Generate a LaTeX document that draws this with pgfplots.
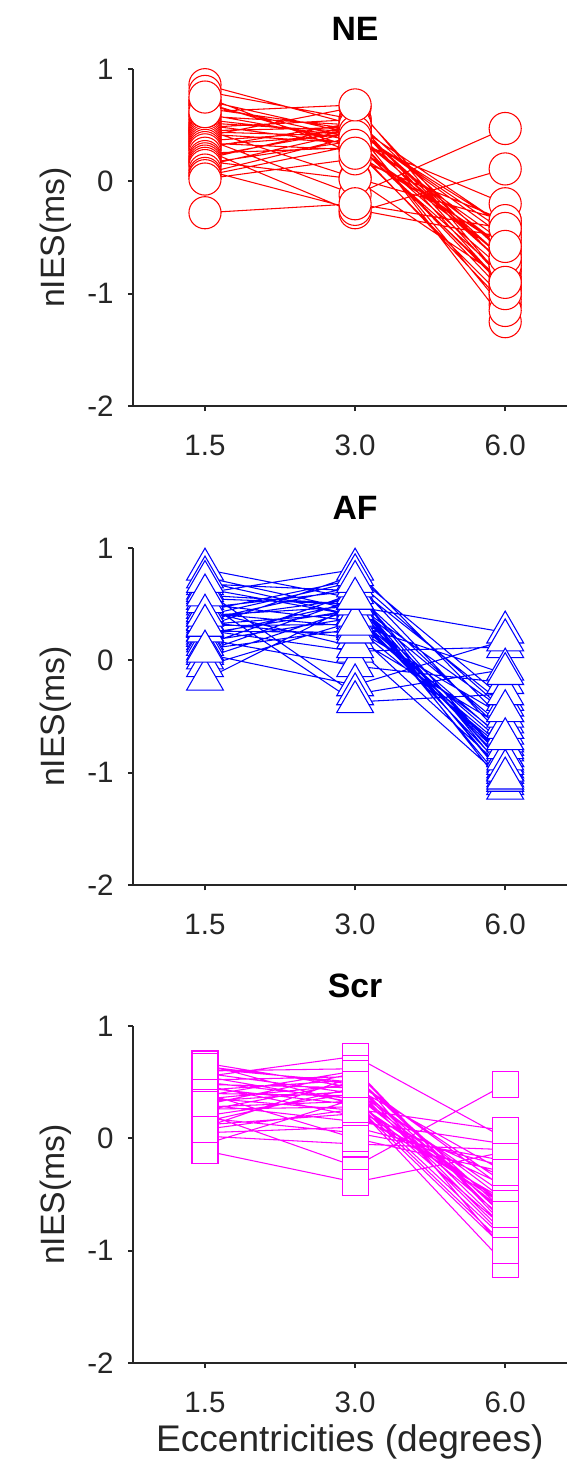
\documentclass[border=0pt]{standalone}
\usepackage{fontspec}
\setmainfont{Liberation Sans}
\usepackage{pgfplots}
\usepackage{pgfplotstable}
\pgfplotsset{compat=1.18}
\definecolor{axisgray}{HTML}{262626}
\definecolor{nered}{RGB}{255,0,0}
\definecolor{afblue}{RGB}{0,0,255}
\definecolor{scrmag}{RGB}{255,0,255}

% one subject per line: values at 1.5, 3.0, 6.0 deg, then a break
\pgfplotstableread[row sep=\\]{
x y\\
1 0.86\\ 2 0.50\\ 3 -0.75\\ nan nan\\
1 0.80\\ 2 0.55\\ 3 -0.90\\ nan nan\\
1 0.72\\ 2 0.42\\ 3 -0.60\\ nan nan\\
1 0.68\\ 2 0.38\\ 3 -0.95\\ nan nan\\
1 0.70\\ 2 0.30\\ 3 -1.10\\ nan nan\\
1 0.65\\ 2 0.46\\ 3 -0.50\\ nan nan\\
1 0.60\\ 2 0.36\\ 3 -0.80\\ nan nan\\
1 0.58\\ 2 0.50\\ 3 -0.70\\ nan nan\\
1 0.55\\ 2 0.40\\ 3 -1.00\\ nan nan\\
1 0.52\\ 2 0.44\\ 3 -0.40\\ nan nan\\
1 0.50\\ 2 0.33\\ 3 -0.85\\ nan nan\\
1 0.48\\ 2 0.55\\ 3 -0.65\\ nan nan\\
1 0.46\\ 2 0.03\\ 3 -0.35\\ nan nan\\
1 0.45\\ 2 0.48\\ 3 -1.25\\ nan nan\\
1 0.44\\ 2 0.40\\ 3 -0.55\\ nan nan\\
1 0.42\\ 2 0.34\\ 3 -0.92\\ nan nan\\
1 0.40\\ 2 0.66\\ 3 -0.78\\ nan nan\\
1 0.38\\ 2 -0.12\\ 3 0.47\\ nan nan\\
1 0.36\\ 2 0.45\\ 3 -0.45\\ nan nan\\
1 0.34\\ 2 0.28\\ 3 -1.05\\ nan nan\\
1 0.32\\ 2 0.42\\ 3 -0.70\\ nan nan\\
1 0.30\\ 2 0.52\\ 3 -0.95\\ nan nan\\
1 0.28\\ 2 -0.28\\ 3 0.11\\ nan nan\\
1 0.25\\ 2 0.30\\ 3 -0.60\\ nan nan\\
1 0.22\\ 2 0.46\\ 3 -1.15\\ nan nan\\
1 0.20\\ 2 0.50\\ 3 -0.40\\ nan nan\\
1 0.18\\ 2 0.02\\ 3 -0.88\\ nan nan\\
1 0.16\\ 2 0.36\\ 3 -0.20\\ nan nan\\
1 0.14\\ 2 0.44\\ 3 -0.75\\ nan nan\\
1 0.10\\ 2 -0.25\\ 3 -0.50\\ nan nan\\
1 0.07\\ 2 0.40\\ 3 -1.00\\ nan nan\\
1 0.05\\ 2 0.32\\ 3 -0.68\\ nan nan\\
1 0.02\\ 2 0.20\\ 3 -0.35\\ nan nan\\
1 -0.28\\ 2 -0.20\\ 3 -0.42\\ nan nan\\
1 0.62\\ 2 0.68\\ 3 -0.90\\ nan nan\\
1 0.75\\ 2 0.25\\ 3 -0.58\\ nan nan\\
}\netab

\pgfplotstableread[row sep=\\]{
x y\\
1 0.81\\ 2 0.55\\ 3 -0.95\\ nan nan\\
1 0.74\\ 2 0.45\\ 3 -0.85\\ nan nan\\
1 0.68\\ 2 0.62\\ 3 -1.00\\ nan nan\\
1 0.64\\ 2 0.40\\ 3 -0.75\\ nan nan\\
1 0.60\\ 2 0.81\\ 3 -0.55\\ nan nan\\
1 0.55\\ 2 0.50\\ 3 -1.10\\ nan nan\\
1 0.50\\ 2 0.35\\ 3 -0.70\\ nan nan\\
1 0.47\\ 2 0.62\\ 3 -0.90\\ nan nan\\
1 0.44\\ 2 0.72\\ 3 -0.45\\ nan nan\\
1 0.42\\ 2 0.30\\ 3 -0.80\\ nan nan\\
1 0.40\\ 2 0.48\\ 3 0.25\\ nan nan\\
1 0.37\\ 2 0.55\\ 3 -1.14\\ nan nan\\
1 0.34\\ 2 0.20\\ 3 -0.60\\ nan nan\\
1 0.32\\ 2 0.42\\ 3 -0.97\\ nan nan\\
1 0.30\\ 2 0.76\\ 3 -0.35\\ nan nan\\
1 0.27\\ 2 0.08\\ 3 0.12\\ nan nan\\
1 0.24\\ 2 0.45\\ 3 -0.72\\ nan nan\\
1 0.22\\ 2 0.52\\ 3 -1.03\\ nan nan\\
1 0.19\\ 2 -0.05\\ 3 -0.20\\ nan nan\\
1 0.17\\ 2 0.38\\ 3 -0.85\\ nan nan\\
1 0.14\\ 2 0.60\\ 3 -0.65\\ nan nan\\
1 0.10\\ 2 0.28\\ 3 -0.50\\ nan nan\\
1 0.06\\ 2 -0.22\\ 3 0.18\\ nan nan\\
1 0.02\\ 2 0.46\\ 3 -0.92\\ nan nan\\
1 -0.05\\ 2 0.35\\ 3 -0.78\\ nan nan\\
1 -0.17\\ 2 0.50\\ 3 -0.60\\ nan nan\\
1 0.62\\ 2 -0.30\\ 3 -0.08\\ nan nan\\
1 0.44\\ 2 0.12\\ 3 -1.07\\ nan nan\\
1 0.70\\ 2 0.40\\ 3 -0.88\\ nan nan\\
1 0.36\\ 2 0.66\\ 3 -0.40\\ nan nan\\
1 0.26\\ 2 0.25\\ 3 -0.98\\ nan nan\\
1 0.52\\ 2 -0.37\\ 3 -0.30\\ nan nan\\
1 0.58\\ 2 0.50\\ 3 -0.45\\ nan nan\\
1 0.40\\ 2 0.70\\ 3 -0.70\\ nan nan\\
1 0.31\\ 2 0.32\\ 3 -0.12\\ nan nan\\
1 0.08\\ 2 0.55\\ 3 -1.05\\ nan nan\\
}\aftab

\pgfplotstableread[row sep=\\]{
x y\\
1 0.67\\ 2 0.45\\ 3 -0.55\\ nan nan\\
1 0.62\\ 2 0.50\\ 3 -0.80\\ nan nan\\
1 0.58\\ 2 0.40\\ 3 -0.60\\ nan nan\\
1 0.55\\ 2 0.73\\ 3 0.00\\ nan nan\\
1 0.52\\ 2 0.55\\ 3 -0.70\\ nan nan\\
1 0.50\\ 2 0.35\\ 3 -0.90\\ nan nan\\
1 0.48\\ 2 0.45\\ 3 -0.30\\ nan nan\\
1 0.45\\ 2 0.30\\ 3 -0.98\\ nan nan\\
1 0.43\\ 2 0.52\\ 3 -0.45\\ nan nan\\
1 0.40\\ 2 0.38\\ 3 -0.65\\ nan nan\\
1 0.38\\ 2 0.60\\ 3 -0.75\\ nan nan\\
1 0.36\\ 2 0.25\\ 3 -0.35\\ nan nan\\
1 0.35\\ 2 0.48\\ 3 -0.85\\ nan nan\\
1 0.33\\ 2 0.42\\ 3 -0.50\\ nan nan\\
1 0.30\\ 2 0.15\\ 3 -0.05\\ nan nan\\
1 0.28\\ 2 0.33\\ 3 -0.95\\ nan nan\\
1 0.26\\ 2 0.28\\ 3 -0.60\\ nan nan\\
1 0.25\\ 2 0.50\\ 3 -0.40\\ nan nan\\
1 0.22\\ 2 -0.25\\ 3 0.48\\ nan nan\\
1 0.20\\ 2 0.40\\ 3 -0.72\\ nan nan\\
1 0.18\\ 2 0.05\\ 3 -0.20\\ nan nan\\
1 0.15\\ 2 0.45\\ 3 -0.88\\ nan nan\\
1 0.12\\ 2 0.22\\ 3 -0.55\\ nan nan\\
1 0.10\\ 2 0.55\\ 3 -0.65\\ nan nan\\
1 0.05\\ 2 0.10\\ 3 -0.25\\ nan nan\\
1 0.02\\ 2 -0.05\\ 3 -0.10\\ nan nan\\
1 -0.05\\ 2 0.35\\ 3 -0.80\\ nan nan\\
1 -0.11\\ 2 -0.39\\ 3 -0.12\\ nan nan\\
1 0.66\\ 2 0.30\\ 3 -1.12\\ nan nan\\
1 0.60\\ 2 0.62\\ 3 -0.78\\ nan nan\\
1 0.47\\ 2 0.20\\ 3 -0.42\\ nan nan\\
1 0.40\\ 2 0.00\\ 3 -0.30\\ nan nan\\
1 0.30\\ 2 0.58\\ 3 -1.00\\ nan nan\\
1 0.55\\ 2 0.32\\ 3 -0.58\\ nan nan\\
1 0.08\\ 2 0.26\\ 3 0.07\\ nan nan\\
1 0.64\\ 2 0.48\\ 3 -0.68\\ nan nan\\
}\scrtab

\pgfplotsset{
  panel/.style={
    scale only axis, width=183.7pt, height=142.7pt,
    anchor=south west,
    xmin=0.52, xmax=3.41, ymin=-2, ymax=1,
    xtick={1,2,3}, xticklabels={1.5,3.0,6.0},
    ytick={-2,-1,0,1}, yticklabels={-2,-1,0,1},
    axis x line*=bottom, axis y line*=left,
    axis line style={-, line width=0.85pt, color=axisgray},
    tick style={line width=0.85pt, color=axisgray},
    tick align=outside, major tick length=2.2pt,
    ticklabel style={font=\fontsize{12.5}{14}\selectfont, text=axisgray},
    xticklabel style={yshift=-6.5pt},
    yticklabel style={xshift=-2.5pt},
    title style={at={(axis description cs:0.512,1)}, anchor=base, yshift=5.9pt,
      font=\fontsize{14.3}{16}\selectfont\bfseries},
    ylabel={nIES(ms)},
    ylabel style={at={(axis description cs:-0.157,0.5)}, anchor=base,
      font=\fontsize{14.3}{16}\selectfont, text=axisgray},
    clip=false, unbounded coords=jump,
  },
  lines/.style={line width=0.45pt, mark=none},
  marks/.style={only marks, mark options={solid, fill=white, line width=0.45pt}},
}

\begin{document}
\begin{tikzpicture}

\begin{axis}[panel, at={(56.3pt,-171.9pt)}, title={NE}]
\addplot[lines, nered] table[x=x, y=y] {\netab};
\addplot[marks, nered, mark=*, mark size=6.8pt] table[x=x, y=y] {\netab};
\end{axis}

\begin{axis}[panel, at={(56.3pt,-374.8pt)}, title={AF}]
\addplot[lines, afblue] table[x=x, y=y] {\aftab};
\addplot[marks, afblue, mark=triangle*, mark size=9pt] table[x=x, y=y] {\aftab};
\end{axis}

\begin{axis}[panel, at={(56.3pt,-577.2pt)}, title={Scr},
  xlabel={Eccentricities (degrees)},
  xlabel style={at={(axis description cs:0.5,0)}, anchor=base, yshift=-37.3pt,
    font=\fontsize{15.7}{18}\selectfont, text=axisgray}]
\addplot[lines, scrmag] table[x=x, y=y] {\scrtab};
\addplot[marks, scrmag, mark=square*, mark size=5.5pt] table[x=x, y=y] {\scrtab};
\end{axis}

% page frame: keeps the margins round the three panels
\path (0,0) rectangle (240pt,-624.2pt);
\end{tikzpicture}
\end{document}
